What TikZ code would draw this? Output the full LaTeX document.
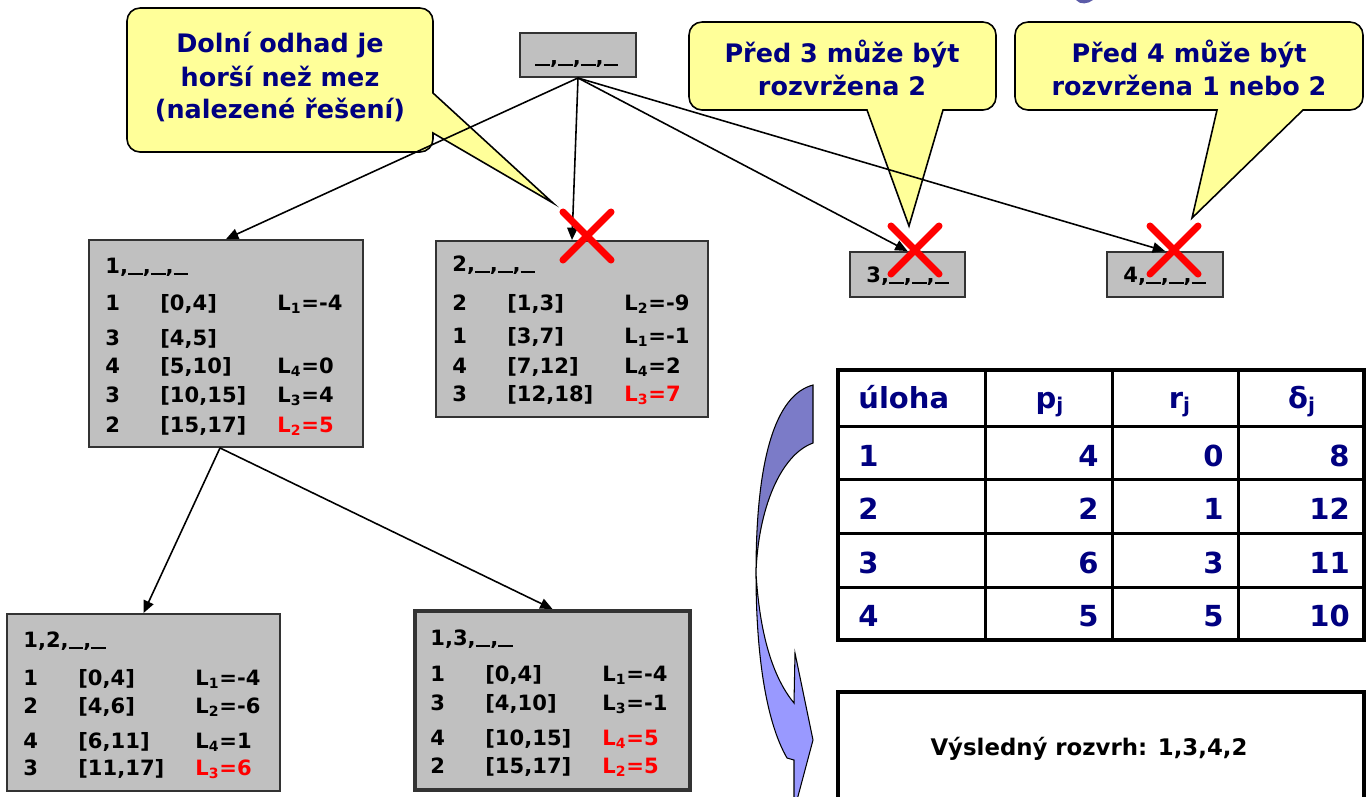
\documentclass[tikz,border=0pt]{standalone}
\usepackage{fontspec}
\setmainfont{DejaVu Sans}
\usetikzlibrary{arrows.meta}
\definecolor{cyellow}{HTML}{FFFF99}
\definecolor{cnavy}{HTML}{000080}
\definecolor{cgray}{HTML}{C0C0C0}
\definecolor{cdark}{HTML}{7B7BC8}
\definecolor{clight}{HTML}{9999FF}
\definecolor{ctitle}{HTML}{5B5BA8}
\definecolor{cred}{HTML}{FF0000}
\newcommand\us{\rule[-0.1em]{0.7em}{0.12em}}
\newcommand\rw[3]{\makebox[1.1cm][l]{#1}\makebox[2.34cm][l]{#2}#3}
\newcommand\rL[2]{\textcolor{cred}{L\textsubscript{#1}=#2}}
\tikzset{
  box/.style={draw=black!80, line width=1.1pt, fill=cgray, inner sep=0pt},
  txt/.style={anchor=base west, inner sep=0pt, font=\fontsize{12}{14}\bfseries\selectfont},
  ctxt/.style={anchor=base, inner sep=0pt, text=cnavy, font=\fontsize{14.5}{17}\bfseries\selectfont},
  tbl/.style={inner sep=0pt, text=cnavy, font=\fontsize{16.5}{19}\bfseries\selectfont},
  callout/.style={fill=cyellow, draw=black, line width=0.9pt},
  edge/.style={draw=black, line width=0.9pt, -{Triangle[length=7pt,width=6pt]}},
  redx/.style={draw=cred, line width=4pt, line cap=round},
}
\begin{document}
\begin{tikzpicture}[x=0.02cm, y=-0.02cm]
\useasboundingbox (0,0) rectangle (1369,796);
\fill[white] (0,0) rectangle (1369,796);
% title fragment
\fill[ctitle] (1076,0) .. controls (1080,5) and (1088,4) .. (1093,0) -- cycle;

% boxes
\node[box, minimum width=2.32cm, minimum height=0.88cm] (root) at (578,55) {};
\node[box, minimum width=5.48cm, minimum height=4.14cm] (n1) at (226,343.5) {};
\node[box, minimum width=5.44cm, minimum height=3.52cm] (n2) at (572,329) {};
\node[box, minimum width=2.3cm, minimum height=0.9cm] (n3) at (907.5,274.5) {};
\node[box, minimum width=2.32cm, minimum height=0.9cm] (n4) at (1165,274.5) {};
\node[box, minimum width=5.46cm, minimum height=3.54cm] (n12) at (143.5,702.5) {};
\node[box, line width=2.3pt, minimum width=5.5cm, minimum height=3.58cm] (n13) at (552.5,700.5) {};

% box texts
\node[txt] (rt) at (535,64) {\us,\us,\us,\us};
\node[txt] (n3t) at (866,282) {3,\us,\us,\us};
\node[txt] (n4t) at (1123,282) {4,\us,\us,\us};

\node[txt] (n1h) at (105,273) {1,\us,\us,\us};
\node[txt] (n1a) at (105,310) {\rw{1}{[0,4]}{L\textsubscript{1}=-4}};
\node[txt] (n1b) at (105,345) {\rw{3}{[4,5]}{}};
\node[txt] (n1c) at (105,373) {\rw{4}{[5,10]}{L\textsubscript{4}=0}};
\node[txt] (n1d) at (105,402) {\rw{3}{[10,15]}{L\textsubscript{3}=4}};
\node[txt] (n1e) at (105,432) {\rw{2}{[15,17]}{\rL{2}{5}}};

\node[txt] (n2h) at (452,271) {2,\us,\us,\us};
\node[txt] (n2a) at (452,310) {\rw{2}{[1,3]}{L\textsubscript{2}=-9}};
\node[txt] (n2b) at (452,343) {\rw{1}{[3,7]}{L\textsubscript{1}=-1}};
\node[txt] (n2c) at (452,373) {\rw{4}{[7,12]}{L\textsubscript{4}=2}};
\node[txt] (n2d) at (452,401) {\rw{3}{[12,18]}{\rL{3}{7}}};

\node[txt] (n12h) at (23,647) {1,2,\us,\us};
\node[txt] (n12a) at (23,685) {\rw{1}{[0,4]}{L\textsubscript{1}=-4}};
\node[txt] (n12b) at (23,713) {\rw{2}{[4,6]}{L\textsubscript{2}=-6}};
\node[txt] (n12c) at (23,748) {\rw{4}{[6,11]}{L\textsubscript{4}=1}};
\node[txt] (n12d) at (23,775) {\rw{3}{[11,17]}{\rL{3}{6}}};

\node[txt] (n13h) at (430,645) {1,3,\us,\us};
\node[txt] (n13a) at (430,681) {\rw{1}{[0,4]}{L\textsubscript{1}=-4}};
\node[txt] (n13b) at (430,710) {\rw{3}{[4,10]}{L\textsubscript{3}=-1}};
\node[txt] (n13c) at (430,745) {\rw{4}{[10,15]}{\rL{4}{5}}};
\node[txt] (n13d) at (430,773) {\rw{2}{[15,17]}{\rL{2}{5}}};

% callouts
\draw[callout] (433,93) -- (553,203) -- (433,133) [rounded corners=0.26cm] -- (433,152) -- (127,152) -- (127,8) -- (433,8) [sharp corners] -- cycle;
\node[ctxt] (c1a) at (280,52) {Dolní odhad je};
\node[ctxt] (c1b) at (280,86) {horší než mez};
\node[ctxt] (c1c) at (280,118) {(nalezené řešení)};

\draw[callout] (943,110) -- (909,226) -- (867,110) [rounded corners=0.26cm] -- (689,110) -- (689,22) -- (996,22) -- (996,110) [sharp corners] -- cycle;
\node[ctxt] (c2a) at (842,62) {Před 3 může být};
\node[ctxt] (c2b) at (842,95) {rozvržena 2};

\draw[callout] (1303,110) -- (1192,218) -- (1217,110) [rounded corners=0.26cm] -- (1015,110) -- (1015,22) -- (1363,22) -- (1363,110) [sharp corners] -- cycle;
\node[ctxt] (c3a) at (1189,62) {Před 4 může být};
\node[ctxt] (c3b) at (1189,95) {rozvržena 1 nebo 2};

% edges
\draw[edge] (root.south) -- (n1.north);
\draw[edge] (root.south) -- (n2.north);
\draw[edge] (root.south) -- (n3.north);
\draw[edge] (root.south) -- (n4.north);
\draw[edge] ([xshift=-0.12cm]n1.south) -- (n12.north);
\draw[edge] ([xshift=-0.12cm]n1.south) -- (n13.north);

% red crosses
\draw[redx] (563,212) -- (611,260) (563,260) -- (611,212);
\draw[redx] (891,226) -- (939,274) (891,274) -- (939,226);
\draw[redx] (1150,226) -- (1198,274) (1150,274) -- (1198,226);

% table
\draw[line width=1.7pt] (985,370) -- (985,640) (1112,370) -- (1112,640) (1238,370) -- (1238,640);
\draw[line width=1.7pt] (838,426) -- (1364,426) (838,479) -- (1364,479) (838,533) -- (1364,533) (838,587) -- (1364,587);
\draw[line width=2.8pt] (838,370) rectangle (1364,640);
\node[tbl, anchor=base west] (th1) at (858,408) {úloha};
\node[tbl, anchor=base] (th2) at (1050,408) {p\textsubscript{j}};
\node[tbl, anchor=base] (th3) at (1180,408) {r\textsubscript{j}};
\node[tbl, anchor=base] (th4) at (1302,408) {δ\textsubscript{j}};
\node[tbl, anchor=base west] (t11) at (858,466) {1};
\node[tbl, anchor=base east] (t12) at (1099,466) {4};
\node[tbl, anchor=base east] (t13) at (1224,466) {0};
\node[tbl, anchor=base east] (t14) at (1350,466) {8};
\node[tbl, anchor=base west] (t21) at (858,519) {2};
\node[tbl, anchor=base east] (t22) at (1099,519) {2};
\node[tbl, anchor=base east] (t23) at (1224,519) {1};
\node[tbl, anchor=base east] (t24) at (1350,519) {12};
\node[tbl, anchor=base west] (t31) at (858,573) {3};
\node[tbl, anchor=base east] (t32) at (1099,573) {6};
\node[tbl, anchor=base east] (t33) at (1224,573) {3};
\node[tbl, anchor=base east] (t34) at (1350,573) {11};
\node[tbl, anchor=base west] (t41) at (858,626) {4};
\node[tbl, anchor=base east] (t42) at (1099,626) {5};
\node[tbl, anchor=base east] (t43) at (1224,626) {5};
\node[tbl, anchor=base east] (t44) at (1350,626) {10};

% result box
\node[draw=black, line width=2.3pt, fill=white, minimum width=10.52cm, minimum height=2.4cm, inner sep=0pt] (res) at (1101,752) {};
\node[anchor=base, inner sep=0pt, font=\fontsize{13}{15}\bfseries\selectfont] (rest) at (1089,755) {Výsledný rozvrh: 1,3,4,2};

% curved arrow
\filldraw[fill=cdark, draw=black, line width=0.6pt] (813,385) .. controls (775,395) and (756,460) .. (756,573) .. controls (758,510) and (780,455) .. (813,443) -- cycle;
\filldraw[fill=clight, draw=black, line width=0.6pt] (756,573) .. controls (756,650) and (765,720) .. (787,758) -- (794,760) -- (794,800) -- (797,800) -- (813,740) -- (795,653) -- (794,703) .. controls (775,680) and (760,640) .. (756,573) -- cycle;
\end{tikzpicture}
\end{document}
